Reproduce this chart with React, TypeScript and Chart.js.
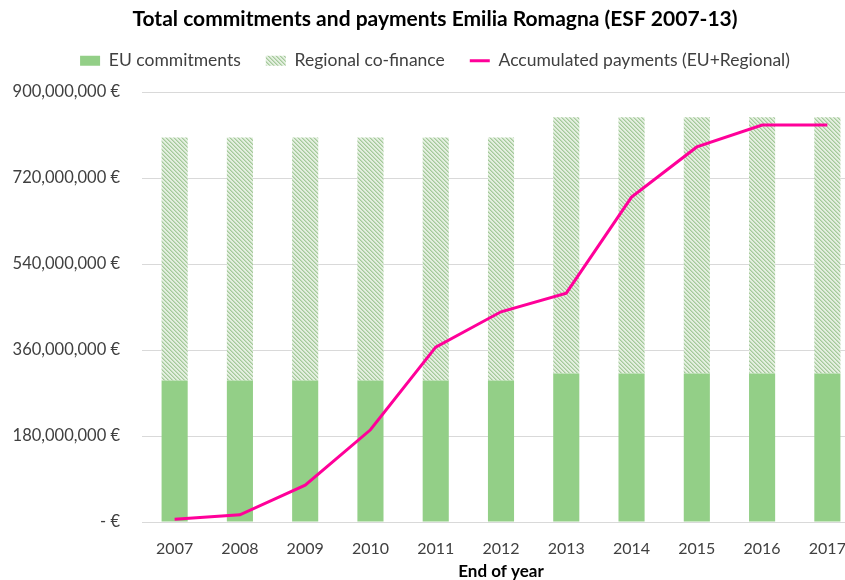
import { useEffect, useRef } from 'react';
import { Chart, registerables } from 'chart.js';

Chart.register(...registerables);

const years = ['2007', '2008', '2009', '2010', '2011', '2012', '2013', '2014', '2015', '2016', '2017'];
const euCommitments = [296e6, 296e6, 296e6, 296e6, 296e6, 296e6, 311e6, 311e6, 311e6, 311e6, 311e6];
const regionalCofinance = [509e6, 509e6, 509e6, 509e6, 509e6, 509e6, 536e6, 536e6, 536e6, 536e6, 536e6];
const accumulatedPayments = [6e6, 15e6, 77e6, 193e6, 366e6, 440e6, 479e6, 680e6, 785e6, 831e6, 831e6];
const yTickValues = [0, 180e6, 360e6, 540e6, 720e6, 900e6];
const legendOrder = ['EU commitments', 'Regional co-finance', 'Accumulated payments (EU+Regional)'];

const GREEN = '#93cf87';
const PINK = '#ff0099';
const FONT = 'Lato';

function makePattern(): CanvasPattern | string {
  const n = 4;
  const c = document.createElement('canvas');
  c.width = n;
  c.height = n;
  const g = c.getContext('2d');
  if (!g) return '#cfe4c9';
  g.fillStyle = '#e4efe0';
  g.fillRect(0, 0, n, n);
  for (let i = 0; i < n; i++) {
    g.fillStyle = '#a4c99a';
    g.fillRect(i, i, 1, 1);
    g.fillStyle = '#c2dcbb';
    g.fillRect((i + 1) % n, i, 1, 1);
  }
  const p = g.createPattern(c, 'repeat');
  return p || '#cfe4c9';
}

export default function App() {
  const ref = useRef<HTMLCanvasElement | null>(null);

  useEffect(() => {
    if (!ref.current) return;
    const pattern = makePattern();
    const chart = new Chart(ref.current, {
      type: 'bar',
      data: {
        labels: years,
        datasets: [
          {
            type: 'line',
            label: legendOrder[2],
            data: accumulatedPayments,
            borderColor: PINK,
            backgroundColor: PINK,
            borderWidth: 3,
            pointRadius: 0,
            tension: 0,
            stack: 'line',
            order: 0,
            pointStyle: 'line',
          } as any,
          {
            type: 'bar',
            label: legendOrder[0],
            data: euCommitments,
            backgroundColor: GREEN,
            borderWidth: 0,
            stack: 'bars',
            categoryPercentage: 1,
            barPercentage: 0.4,
            order: 1,
            pointStyle: 'rect',
          } as any,
          {
            type: 'bar',
            label: legendOrder[1],
            data: regionalCofinance,
            backgroundColor: pattern,
            borderWidth: 0,
            stack: 'bars',
            categoryPercentage: 1,
            barPercentage: 0.4,
            order: 2,
            pointStyle: 'rect',
          } as any,
        ],
      },
      options: {
        responsive: false,
        animation: false,
        layout: { padding: { top: 9, right: 20, left: 10, bottom: 0 } },
        plugins: {
          title: {
            display: true,
            text: 'Total commitments and payments Emilia Romagna (ESF 2007-13)',
            color: '#000',
            font: { family: FONT, size: 21, weight: 'bold', lineHeight: 1 },
            padding: { top: 0, bottom: -3 },
          },
          subtitle: {
            display: true,
            text: ' ',
            weight: 500,
            font: { family: FONT, size: 2, lineHeight: 1 },
            padding: { top: 10.5, bottom: 0 },
          } as any,
          legend: {
            display: true,
            labels: {
              usePointStyle: true,
              pointStyleWidth: 20,
              boxHeight: 10,
              color: '#404040',
              font: { family: FONT, size: 17.5 },
              padding: 25,
              sort: (a: any, b: any) => legendOrder.indexOf(a.text) - legendOrder.indexOf(b.text),
            },
          },
          tooltip: { enabled: false },
        },
        scales: {
          x: {
            stacked: true,
            grid: { display: false, drawTicks: false },
            border: { display: false },
            ticks: { color: '#404040', font: { family: FONT, size: 16 }, padding: 17 },
            title: {
              display: true,
              text: 'End of year',
              color: '#000',
              font: { family: FONT, size: 17, weight: 'bold' },
              padding: { top: 0, bottom: 0 },
            },
            afterFit: (scale: any) => {
              scale.height = 60;
            },
          },
          y: {
            stacked: true,
            min: 0,
            max: 900e6,
            grid: { color: '#d9d9d9', lineWidth: 1, drawTicks: false },
            border: { display: false },
            afterBuildTicks: (scale: any) => {
              scale.ticks = yTickValues.map((v) => ({ value: v }));
            },
            afterFit: (scale: any) => {
              scale.width = 132;
            },
            ticks: {
              color: '#404040',
              font: { family: FONT, size: 16.5 },
              padding: 22,
              callback: (v: any) => (Number(v) === 0 ? '- €' : Number(v).toLocaleString('en-US') + ' €'),
            },
          },
        },
      },
    });
    return () => chart.destroy();
  }, []);

  return (
    <div style={{ position: 'fixed', left: 0, top: 0, width: 845, height: 580, overflow: 'hidden', background: '#fff' }}>
      <canvas ref={ref} width={880} height={582} style={{ display: 'block' }} />
    </div>
  );
}
